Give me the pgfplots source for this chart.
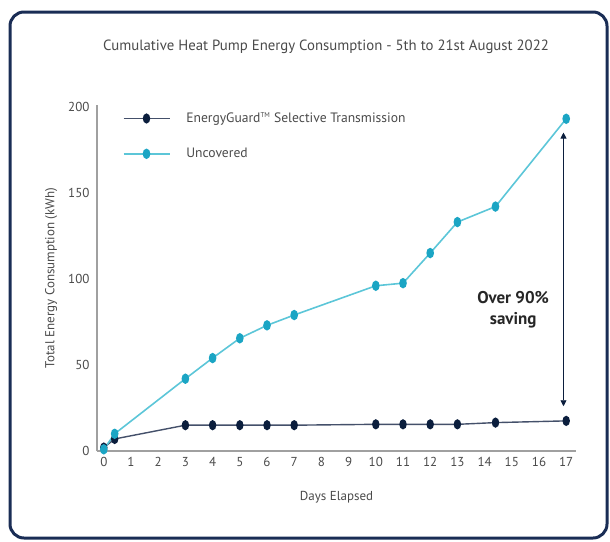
\documentclass[border=0pt]{standalone}
\usepackage{pgfplots}
\pgfplotsset{compat=1.18}
\usepackage{fontspec}
\setmainfont{PT Sans}
\usetikzlibrary{arrows.meta}
\definecolor{navy}{HTML}{0B1E3D}
\definecolor{navyline}{HTML}{44506A}
\definecolor{frame}{HTML}{1A2D55}
\definecolor{cyanline}{HTML}{5CC6D8}
\definecolor{cyanmark}{HTML}{1BA5C4}
\definecolor{txt}{HTML}{4A4A4A}
\definecolor{axisgray}{HTML}{A0A0A0}
\begin{document}
\begin{tikzpicture}
\path[use as bounding box] (0pt,0pt) rectangle (610pt,-541pt);
\draw[frame, line width=3pt, rounded corners=14pt] (10pt,-12pt) rectangle (607pt,-538pt);
\node[txt, font=\fontsize{14.8}{16}\selectfont] at (326pt,-47pt) {Cumulative Heat Pump Energy Consumption - 5th to 21st August 2022};
\begin{axis}[
    at={(97pt,-451pt)}, anchor=south west,
    scale only axis,
    width=479pt, height=346pt,
    xmin=-0.25, xmax=17.36,
    ymin=0, ymax=201,
    axis x line=bottom, axis y line=left,
    axis line style={axisgray, line width=1.4pt, -},
    xtick={0,...,17}, ytick={0,50,...,200},
    major tick length=0pt,
    tick label style={txt, font=\fontsize{13}{14}\selectfont},
    xticklabel style={yshift=-3pt},
    yticklabel style={xshift=-4pt},
    /pgf/number format/assume math mode=true,
    xlabel={Days Elapsed},
    ylabel={Total Energy Consumption (kWh)},
    label style={txt, font=\fontsize{13}{14}\selectfont},
    xlabel style={yshift=-17pt},
    ylabel style={yshift=4pt},
    legend style={at={(0.047,0.99)}, anchor=north west, draw=none, fill=none,
        font=\fontsize{13.6}{15}\selectfont, text=txt, row sep=20pt,
        nodes={inner sep=2pt}},
    legend cell align=left,
    legend image code/.code={\draw[mark repeat=2,mark phase=2,#1] plot coordinates {(0pt,0pt)(23pt,0pt)(46pt,0pt)};\path (60pt,0pt);},
    clip=false,
]
\addplot[navyline, line width=1.4pt, mark=*, mark size=3pt,
    mark options={fill=navy, draw=navy, yscale=1.45}]
coordinates {
(0,2)(0.4,7)(3,15)(4,15)(5,15)(6,15)(7,15)(10,15.5)(11,15.5)(12,15.5)(13,15.5)(14.4,16.5)(17,17.5)
};
\addplot[cyanline, line width=1.6pt, mark=*, mark size=3pt,
    mark options={fill=cyanmark, draw=cyanmark, yscale=1.45}]
coordinates {
(0,1)(0.4,10)(3,42)(4,54)(5,65.5)(6,73)(7,79)(10,96)(11,97.5)(12,115)(13,133)(14.4,142)(17,193)
};
\legend{EnergyGuard\textsuperscript{\fontsize{7}{8}\selectfont TM} Selective Transmission, Uncovered}
\draw[navy, line width=0.9pt, {Triangle[width=6pt,length=6pt]}-{Triangle[width=6pt,length=6pt]}]
    (axis cs:16.9,185) -- (axis cs:16.9,26);
\node[align=center, font=\bfseries\fontsize{17}{21}\selectfont, text=black!85] at (axis cs:15.05,82) {Over 90\%\\saving};
\end{axis}
\end{tikzpicture}
\end{document}
